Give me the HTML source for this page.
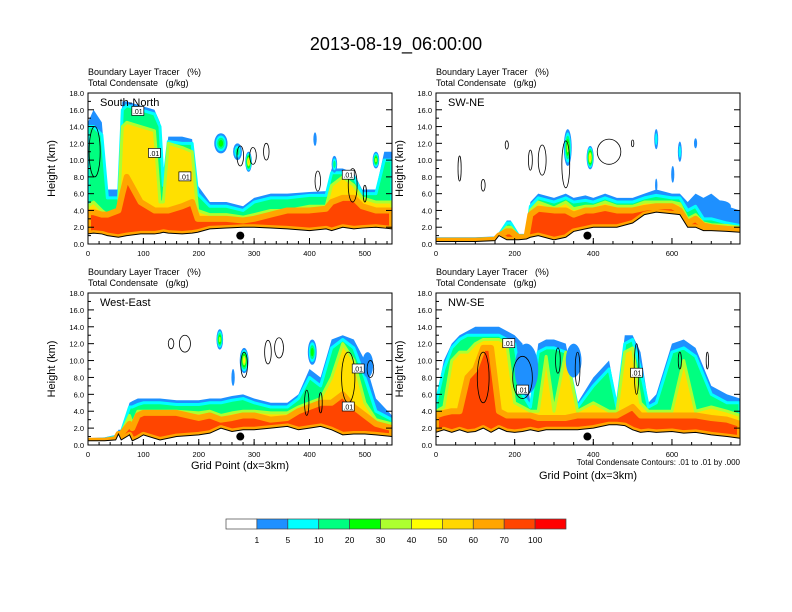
<!DOCTYPE html>
<html><head><meta charset="utf-8"><style>
html,body{margin:0;padding:0;background:#fff;}
svg{display:block;font-family:"Liberation Sans",sans-serif;}
text{white-space:pre;}
</style></head><body>
<svg id="chart" width="792" height="612" viewBox="0 0 792 612">
<text x="396" y="50" font-size="18" text-anchor="middle">2013-08-19_06:00:00</text>
</svg>
<script>
// ---------- data ----------
const levelColors = ["#1E90FF","#00FFFF","#00FF80","#00FF00","#ADFF2F","#FFFF00","#FFD700","#FFA500","#FF4500","#FF0000"];
const cbLabels = ["1","5","10","20","30","40","50","60","70","100"];

// Panel 1: South-North
const snX = [0,10,25,35,55,62,70,95,120,130,136,145,170,188,198,220,250,280,300,330,360,400,430,440,460,480,495,520,535,549];
const snTerrain = [1.2,1.3,1.2,1.0,0.8,0.9,1.0,1.2,1.2,1.3,1.4,1.3,1.2,1.3,1.4,1.8,1.9,2.0,2.0,1.9,1.8,1.6,1.8,1.6,2.0,1.8,1.9,2.0,1.9,1.8];
const snBlue = [14.5,16,14.5,6.5,6.5,17,17,16.5,16,14.5,8,12.8,12.8,12.5,7,5,5,4.5,5.5,6,6,6.2,6.3,9,9,8.5,6.5,6.5,11,11];
const snGreen = [14,14,13,5.5,5.5,16,16.5,16,15.5,14,7,12.2,12,12,6,4.5,4.5,4,5,5.5,5.5,5.8,5.8,8.5,8.5,8,6,6,10,10];
const snYellow = [4.5,5,4,3.5,4,14,14.5,14,13.5,5,5,12,11.5,11,4,3.5,3.5,3.2,3.5,4,4,4.5,4.5,7,8,7,5.5,5,5,5];
const snRed = [3.8,3.8,3.5,3.5,4,6,8,5,4,4,4,4,4.5,5,3,3,3,2.8,3,3.5,4,4,4.2,5,5.5,5.5,4.5,4,4,4];
const snBlobX=[240,270,290,410,445,520], snBlobY=[12,11,9.8,12.5,9.5,10], snBlobRx=[12,8,6,3,5,6], snBlobRy=[1.2,1,1.2,0.8,1,1], snBlobLvl=[3,2,6,0,2,4];
const snConX=[12,275,298,322,415,478,500], snConY=[11,10.5,10.5,11,7.5,7,6], snConRx=[10,6,6,5,5,8,3], snConRy=[3,1.2,1,1,1.2,2,1];
const snLblX=[90,120,175,470], snLblY=[15.8,10.8,8,8.2];

// Panel 2: SW-NE
const swX=[0,50,100,150,160,180,190,210,230,240,260,300,330,350,380,400,430,460,500,530,560,600,620,640,660,680,700,740,773];
const swTerrain=[0.3,0.3,0.3,0.4,1.0,0.5,0.5,0.5,0.6,0.8,1.0,0.5,0.8,1.5,1.8,2.0,2.0,2.0,2.5,3.5,3.8,3.6,3.5,2.0,2.0,1.6,1.6,1.5,1.4];
const swBlue=[0.8,0.8,0.8,0.9,1.2,2.8,2.8,1.2,1.2,5,6,5.5,6,5.5,5.8,5.5,6,5.5,5.5,6,6.5,6,6,5,6,5.5,6,4.5,4];
const swGreen=[0.6,0.6,0.6,0.7,1.1,2.5,2.5,1.0,1.0,4.5,5.5,5,5.5,5,5.2,5,5.5,5,5,5.5,5.8,5.5,5.5,4,4.5,3,3,2.5,2.2];
const swYellow=[0.5,0.5,0.5,0.6,1.0,2.0,2.0,0.9,0.9,4,5,4.3,5,4.2,4.5,4.5,5,4.5,4.5,5,5,5,4.8,3,3.5,2.5,2.3,2.2,2];
const swRed=[0.4,0.4,0.4,0.5,1.0,1.5,1.5,0.8,0.8,3.5,4.2,4,4,3.5,4,4,4.3,4,4,4.3,4.5,4.5,4,2.5,3,2.2,2,1.8,1.7];
const swBlobX=[335,392,560,602,620,660,560,720], swBlobY=[11.5,10.3,12.5,8.3,11,12,7,4.5], swBlobRx=[10,9,5,4,5,4,3,30], swBlobRy=[2.2,1.4,1.2,1,1.2,0.6,0.8,0.7], swBlobLvl=[4,6,1,0,1,0,0,0];
const swConX=[60,120,180,240,270,330,440,500], swConY=[9,7,11.8,10,10,9.5,11,12], swConRx=[4,5,4,5,10,10,30,3], swConRy=[1.5,0.7,0.5,1.2,1.8,2.8,1.5,0.4];
const swLblX=[], swLblY=[];

// Panel 3: West-East
const weX=[0,30,50,55,60,75,80,90,100,130,160,200,220,240,260,280,300,330,360,380,400,420,440,460,480,500,520,549];
const weTerrain=[0.5,0.5,0.6,1.3,0.6,1.2,0.5,0.8,1.2,0.6,1.0,1.2,1.4,2.0,1.6,1.8,1.8,2.0,2.2,1.8,2.0,2.2,1.8,1.2,1.3,1.3,1.2,1.0];
const weBlue=[0.8,0.9,1.2,1.8,1.8,5,5.2,5.5,5.5,5.5,5.3,5.3,5.5,5.5,5.8,6,5.5,5,5,6,9,8,12.5,13,12.5,10,5.5,3.5];
const weGreen=[0.6,0.7,1.0,1.5,1.5,4.5,4.5,4.8,5,5,4.8,4.8,5,5,5.3,5.5,5,4.5,4.5,5.5,8,7,11.5,12.5,11.5,8,4,3];
const weYellow=[0.5,0.6,0.8,1.4,1.4,3.5,2.5,4,4,4,4,3.8,4,3.5,3.8,4,4,3.8,3.8,4.5,5,5.5,8,12,10,5,3,2.5];
const weRed=[0.5,0.5,0.7,1.3,1.3,2.5,2.0,3.5,3.8,3.8,3.8,3.2,3.5,3,3.2,3.5,3.5,3,3.2,4,4.5,5,5,6,4.5,3.5,2.5,2];
const weBlobX=[238,282,262,405,505], weBlobY=[12.5,10,8,11,9.5], weBlobRx=[6,8,3,8,10], weBlobRy=[1.2,1.5,1,1.5,1.5], weBlobLvl=[4,5,0,3,0];
const weConX=[150,175,282,325,345,470,510,395,420], weConY=[12,12,9.5,11,11.5,8,9,5,5], weConRx=[5,10,6,6,8,12,6,4,3], weConRy=[0.6,1,1.5,1.4,1.2,3,1,1.5,1.2];
const weLblX=[470,488], weLblY=[4.5,9];

// Panel 4: NW-SE
const nwX=[0,20,40,60,80,100,120,140,160,180,200,220,240,260,280,300,330,360,400,440,460,480,500,520,540,560,600,630,660,700,740,773];
const nwTerrain=[1.5,1.8,1.5,1.8,1.5,1.6,2.0,1.5,2.0,1.6,1.5,1.6,1.8,1.6,1.8,1.8,1.8,1.8,2.0,2.4,2.4,2.3,1.8,1.5,1.6,1.5,1.6,1.4,1.5,1.2,1.0,0.8];
const nwBlue=[5.5,10,12,13,13.5,14,14,14,14,13.5,13,12,5,12,12.5,12.5,12,5,8,10,5,13,13,11,5,6,12,12.5,11.5,7,6,5.5];
const nwGreen=[5,9,11.5,12.5,13,13,13,13,13,12.5,12,6,4.5,11,11.5,11.5,11,4.5,7,9,4.5,12,12.5,9,4.5,5,11,11.5,10.5,6,5,5];
const nwYellow=[4,4.5,10,11,11,12,12.5,12.5,12.5,12,5,4.5,4,4,10.5,4,11,4,5,4,4,11,11.5,5,4,4,4,10,4,4.5,4,3.5];
const nwRed=[3.5,3.8,4,4,8,9,11.5,11.5,4,3.5,3.5,3.5,3.5,3.2,3.2,3.2,3.2,3.5,3.5,3.5,3.5,4,4.5,3.5,3.5,3.5,3.5,3.5,3.5,3.2,3,2.5];
const nwBlobX=[230,350], nwBlobY=[9,10], nwBlobRx=[30,20], nwBlobRy=[3,2], nwBlobLvl=[0,0];
const nwConX=[220,310,360,510,620,120,690], nwConY=[8,10,9,9,10,8,10], nwConRx=[25,6,6,6,4,15,3], nwConRy=[2.5,1.5,2,3,1,3,1];
const nwLblX=[185,220,510], nwLblY=[12,6.5,8.5];

const dotX=[275,385,275,385];
// ---------- drawing ----------
const svg=document.getElementById('chart');
const NS="http://www.w3.org/2000/svg";
function mk(tag,attrs,parent){const e=document.createElementNS(NS,tag);for(const k in attrs)e.setAttribute(k,attrs[k]);(parent||svg).appendChild(e);return e;}

const panels=[
 {name:"south-north",label:"South-North",x0:88,y0:93,w:304,h:151,xmax:549,xt:[0,100,200,300,400,500],minor:20,X:snX,T:snTerrain,L:[snBlue,snGreen,snYellow,snRed],bx:snBlobX,by:snBlobY,brx:snBlobRx,bry:snBlobRy,bl:snBlobLvl,cx:snConX,cy:snConY,crx:snConRx,cry:snConRy,lx:snLblX,ly:snLblY,xlab:false},
 {name:"sw-ne",label:"SW-NE",x0:436,y0:93,w:304,h:151,xmax:773,xt:[0,200,400,600],minor:50,X:swX,T:swTerrain,L:[swBlue,swGreen,swYellow,swRed],bx:swBlobX,by:swBlobY,brx:swBlobRx,bry:swBlobRy,bl:swBlobLvl,cx:swConX,cy:swConY,crx:swConRx,cry:swConRy,lx:swLblX,ly:swLblY,xlab:false},
 {name:"west-east",label:"West-East",x0:88,y0:293,w:304,h:152,xmax:549,xt:[0,100,200,300,400,500],minor:20,X:weX,T:weTerrain,L:[weBlue,weGreen,weYellow,weRed],bx:weBlobX,by:weBlobY,brx:weBlobRx,bry:weBlobRy,bl:weBlobLvl,cx:weConX,cy:weConY,crx:weConRx,cry:weConRy,lx:weLblX,ly:weLblY,xlab:true},
 {name:"nw-se",label:"NW-SE",x0:436,y0:293,w:304,h:152,xmax:773,xt:[0,200,400,600],minor:50,X:nwX,T:nwTerrain,L:[nwBlue,nwGreen,nwYellow,nwRed],bx:nwBlobX,by:nwBlobY,brx:nwBlobRx,bry:nwBlobRy,bl:nwBlobLvl,cx:nwConX,cy:nwConY,crx:nwConRx,cry:nwConRy,lx:nwLblX,ly:nwLblY,xlab:true}
];
const layerFill=["#1E90FF","#00FF80","#FFE000","#FF4500"];
const layerEdge=["#1E90FF","#00FFFF","#ADFF2F","#FFA500"];
const layerEdgeW=[0,3,3,6];

panels.forEach((p,pi)=>{
  const g=mk('g',{});
  
  
  const sx=v=>p.x0+v/p.xmax*p.w;
  const sy=v=>p.y0+p.h-v/18*p.h;
  const clipId='clip'+pi;
  const cp=mk('clipPath',{id:clipId},g);
  mk('rect',{x:p.x0,y:p.y0,width:p.w,height:p.h},cp);
  const pg=mk('g',{'clip-path':'url(#'+clipId+')'},g);
  const s1=mk('text',{x:p.x0,y:p.y0-18,'font-size':9},g);s1.textContent="Boundary Layer Tracer   (%)";
  
  
  const s2=mk('text',{x:p.x0,y:p.y0-7,'font-size':9},g);s2.textContent="Total Condensate   (g/kg)";
  
  
  p.L.forEach((arr,li)=>{
    let d="M"+sx(p.X[0])+","+sy(p.T[0]);
    p.X.forEach((x,i)=>{d+=" L"+sx(x)+","+sy(arr[i]);});
    for(let i=p.X.length-1;i>=0;i--)d+=" L"+sx(p.X[i])+","+sy(p.T[i]);
    const path=mk('path',{d:d+"Z",fill:layerFill[li],stroke:layerEdge[li],'stroke-width':layerEdgeW[li],'stroke-linejoin':'round'},pg);
    
    
  });
  p.bx.forEach((bx,i)=>{
    const n=p.bl[i];
    for(let k=0;k<=n;k++){
      const f=1-k/(n+1.5);
      const e=mk('ellipse',{cx:sx(bx),cy:sy(p.by[i]),rx:p.brx[i]/p.xmax*p.w*f,ry:p.bry[i]/18*p.h*f,fill:levelColors[k]},pg);
      
      
    }
  });
  let td="M"+sx(p.X[0])+","+sy(0);
  p.X.forEach((x,i)=>{td+=" L"+sx(x)+","+sy(p.T[i]);});
  td+=" L"+sx(p.X[p.X.length-1])+","+sy(0)+"Z";
  const tm=mk('path',{d:td,fill:"#fff",stroke:"#000",'stroke-width':1},pg);
  
  
  p.cx.forEach((cx,i)=>{
    const e=mk('ellipse',{cx:sx(cx),cy:sy(p.cy[i]),rx:p.crx[i]/p.xmax*p.w,ry:p.cry[i]/18*p.h,fill:"none",stroke:"#000",'stroke-width':0.8},pg);
    
    
  });
  p.lx.forEach((lx,i)=>{
    const r=mk('rect',{x:sx(lx)-6,y:sy(p.ly[i])-5,width:12,height:9,fill:"#fff",stroke:"#000",'stroke-width':0.7},pg);
    
    
    const t=mk('text',{x:sx(lx),y:sy(p.ly[i])+2.5,'font-size':7,'text-anchor':'middle'},pg);t.textContent=".01";
    
    
  });
  const dot=mk('circle',{cx:sx(dotX[pi]),cy:sy(1.0),r:4,fill:"#000"},g);
  
  
  const fr=mk('rect',{x:p.x0,y:p.y0,width:p.w,height:p.h,fill:"none",stroke:"#000",'stroke-width':1},g);
  
  
  const pl=mk('text',{x:p.x0+12,y:p.y0+13,'font-size':11},g);pl.textContent=p.label;
  
  
  for(let v=0;v<=18;v+=2){
    mk('line',{x1:p.x0,x2:p.x0+6,y1:sy(v),y2:sy(v),stroke:"#000"},g);
    mk('line',{x1:p.x0+p.w,x2:p.x0+p.w-6,y1:sy(v),y2:sy(v),stroke:"#000"},g);
    const t=mk('text',{x:p.x0-4,y:sy(v)+3,'font-size':7.5,'text-anchor':'end'},g);t.textContent=v.toFixed(1);
    
    
  }
  for(let v=1;v<18;v+=2){
    mk('line',{x1:p.x0,x2:p.x0+3,y1:sy(v),y2:sy(v),stroke:"#000"},g);
  }
  for(let v=0;v<=p.xmax;v+=p.minor){
    mk('line',{x1:sx(v),x2:sx(v),y1:p.y0+p.h,y2:p.y0+p.h-3,stroke:"#000"},g);
  }
  p.xt.forEach(v=>{
    mk('line',{x1:sx(v),x2:sx(v),y1:p.y0+p.h,y2:p.y0+p.h-6,stroke:"#000"},g);
    const t=mk('text',{x:sx(v),y:p.y0+p.h+12,'font-size':7.5,'text-anchor':'middle'},g);t.textContent=v;
    
    
  });
  const yl=mk('text',{x:0,y:0,'font-size':11,'text-anchor':'middle',transform:"translate("+(p.x0-33)+","+(p.y0+p.h/2)+") rotate(-90)"},g);
  yl.textContent="Height (km)";
  
  
  if(p.xlab){
    const xl=mk('text',{x:p.x0+p.w/2,y:p.y0+p.h+(pi==3?34:24),'font-size':11,'text-anchor':'middle'},g);
    xl.textContent="Grid Point (dx=3km)";
    
    
  }
});
const fn=mk('text',{x:740,y:465,'font-size':8,'text-anchor':'end'});
fn.textContent="Total Condensate Contours: .01 to .01 by .000";



const cb=mk('g',{});


const cbCols=["#FFFFFF"].concat(levelColors);
const cbX0=226,cbW=340,cbY=519,cbH=10,bw=cbW/cbCols.length;
cbCols.forEach((c,i)=>{
  const r=mk('rect',{x:cbX0+i*bw,y:cbY,width:bw,height:cbH,fill:c,stroke:"#444",'stroke-width':0.7},cb);
  
  
});
cbLabels.forEach((l,i)=>{
  const t=mk('text',{x:cbX0+(i+1)*bw,y:cbY+24,'font-size':8.5,'text-anchor':'middle'},cb);t.textContent=l;
  
  
});
</script>
</body></html>
